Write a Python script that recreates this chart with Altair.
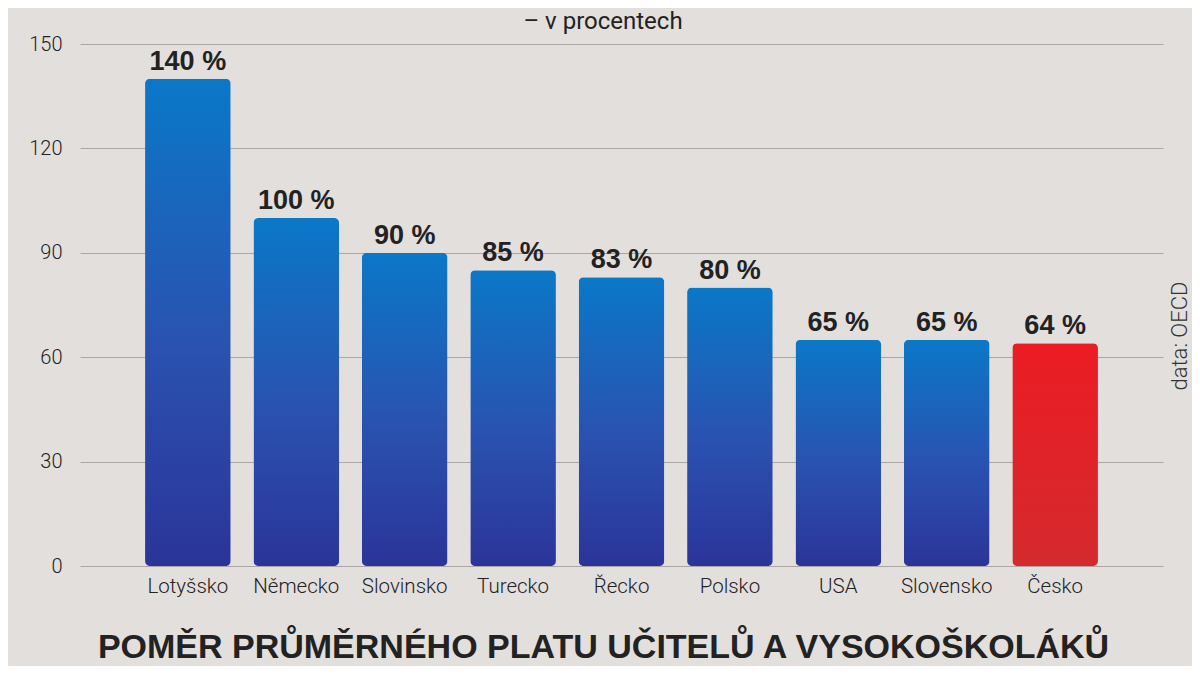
import altair as alt
import pandas as pd

countries = ["Lotyšsko", "Německo", "Slovinsko", "Turecko", "Řecko", "Polsko", "USA", "Slovensko", "Česko"]
values = [140, 100, 90, 85, 83, 80, 65, 65, 64]
highlight = [False, False, False, False, False, False, False, False, True]
labels = [f"{v} %" for v in values]

df = pd.DataFrame({"country": countries, "value": values, "hl": highlight, "label": labels})

blue_grad = alt.Gradient(
    gradient="linear", x1=0, y1=0, x2=0, y2=1,
    stops=[alt.GradientStop(color="#0a78c8", offset=0),
           alt.GradientStop(color="#2a52b0", offset=0.55),
           alt.GradientStop(color="#2b3499", offset=1)],
)
red_grad = alt.Gradient(
    gradient="linear", x1=0, y1=0, x2=0, y2=1,
    stops=[alt.GradientStop(color="#ec1c24", offset=0),
           alt.GradientStop(color="#d42a2e", offset=1)],
)

x = alt.X("country:N", sort=countries,
          scale=alt.Scale(paddingInner=0.21, paddingOuter=0.6),
          axis=alt.Axis(title=None, labelAngle=0, labelFont="Roboto", labelFontWeight=300,
                        labelFontSize=20.5, labelColor="#222222", ticks=False, domain=False,
                        labelPadding=10))
y = alt.Y("value:Q", scale=alt.Scale(domain=[0, 150], nice=False),
          axis=alt.Axis(title=None, values=[0, 30, 60, 90, 120, 150], labelFont="Roboto",
                        labelFontWeight=300, labelFontSize=20, labelColor="#222222",
                        ticks=False, domain=False, labelPadding=18,
                        gridColor="#aaa6a4", gridWidth=1))

base = alt.Chart(df)

blue = base.transform_filter("!datum.hl").mark_bar(
    color=blue_grad, cornerRadius=5).encode(x=x, y=y)
red = base.transform_filter("datum.hl").mark_bar(
    color=red_grad, cornerRadius=5).encode(x=x, y=y)
text = base.mark_text(
    dy=-17, font="Liberation Sans", fontWeight="bold", fontSize=27, color="#222222"
).encode(x=alt.X("country:N", sort=countries), y="value:Q", text="label:N")

subtitle = alt.Chart(pd.DataFrame({"t": ["– v procentech"]})).mark_text(
    font="Roboto", fontSize=24, color="#222222", baseline="middle"
).encode(x=alt.value(523), y=alt.value(-22), text="t:N")

source = alt.Chart(pd.DataFrame({"t": ["data: OECD"]})).mark_text(
    font="Roboto", fontWeight=300, fontSize=22, color="#333333", angle=270, baseline="middle"
).encode(x=alt.value(1100), y=alt.value(292), text="t:N")

chart = alt.layer(blue, red, text, subtitle, source).properties(
    width=1083, height=522,
    background="#e2dfdd",
    padding={"left": 72, "top": 36, "right": 29, "bottom": 100},
    autosize=alt.AutoSizeParams(type="none"),
    title=alt.TitleParams(
        text="POMĚR PRŮMĚRNÉHO PLATU UČITELŮ A VYSOKOŠKOLÁKŮ",
        orient="bottom", font="Liberation Sans", fontWeight="bold", fontSize=34,
        color="#222222", offset=34, anchor="middle", dx=-18,
    ),
).configure_view(stroke=None)

chart.save("out.html", embed_options={"renderer": "svg", "actions": False})
